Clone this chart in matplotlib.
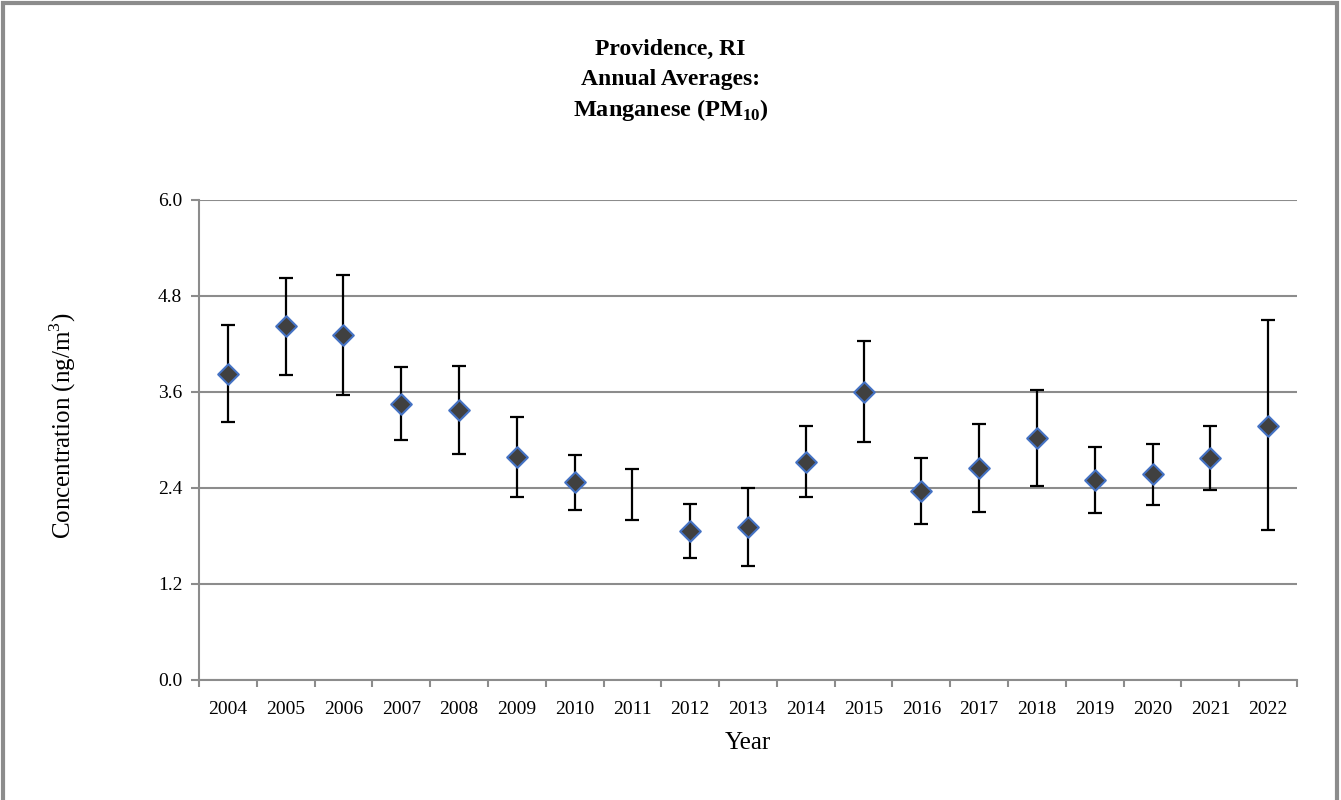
import numpy as np
import matplotlib
matplotlib.use("Agg")
import matplotlib.pyplot as plt
from matplotlib.patches import Rectangle

plt.rcParams['font.family'] = ['Liberation Serif', 'DejaVu Serif']
plt.rcParams['mathtext.fontset'] = 'custom'
plt.rcParams['mathtext.rm'] = 'Liberation Serif'
plt.rcParams['mathtext.bf'] = 'Liberation Serif:bold'

years = ['2004', '2005', '2006', '2007', '2008', '2009', '2010', '2011', '2012', '2013',
         '2014', '2015', '2016', '2017', '2018', '2019', '2020', '2021', '2022']
# annual mean (no mean shown for 2011)
mean = [3.83, 4.42, 4.31, 3.45, 3.38, 2.79, 2.47, np.nan, 1.86, 1.91,
        2.73, 3.60, 2.36, 2.65, 3.03, 2.50, 2.57, 2.77, 3.18]
lower = [3.22, 3.81, 3.56, 3.00, 2.83, 2.29, 2.13, 2.00, 1.52, 1.43,
         2.29, 2.97, 1.95, 2.10, 2.43, 2.09, 2.19, 2.37, 1.88]
upper = [4.44, 5.03, 5.06, 3.91, 3.93, 3.29, 2.81, 2.64, 2.20, 2.40,
         3.17, 4.24, 2.78, 3.20, 3.63, 2.91, 2.95, 3.17, 4.50]
yticks = [0.0, 1.2, 2.4, 3.6, 4.8, 6.0]

x = np.arange(len(years))
lo = np.array(lower)
hi = np.array(upper)
m = np.array(mean)
center = np.where(np.isnan(m), (lo + hi) / 2, m)

fig = plt.figure(figsize=(13.41, 8), dpi=100)
ax = fig.add_axes([0.1484, 0.15, 0.8188, 0.60])

ax.errorbar(x, center, yerr=[center - lo, hi - center], fmt='none',
            ecolor='black', elinewidth=1.6, capsize=5, capthick=1.6, zorder=3)
ax.scatter(x, m, marker='D', s=110, facecolor='#404040', edgecolor='#4472C4',
           linewidth=1.5, zorder=4)

ax.set_xlim(-0.5, len(years) - 0.5)
ax.set_ylim(0, 6.0)
ax.set_yticks(yticks)
ax.set_yticklabels(['%.1f' % v for v in yticks])
ax.set_xticks(x)
ax.set_xticklabels(years)
ax.set_xticks(np.arange(-0.5, len(years), 1), minor=True)
ax.tick_params(axis='x', which='major', length=0, labelsize=14, pad=15)
ax.tick_params(axis='x', which='minor', length=5, width=1.5, color='#8c8c8c')
ax.tick_params(axis='y', length=6, width=1.5, color='#8c8c8c', labelsize=14, pad=6)

ax.grid(axis='y', color='#8c8c8c', linewidth=1.5)
ax.set_axisbelow(True)
for s in ['top', 'right']:
    ax.spines[s].set_visible(False)
for s in ['left', 'bottom']:
    ax.spines[s].set_color('#8c8c8c')
    ax.spines[s].set_linewidth(1.5)

ax.set_xlabel('Year', fontsize=18, labelpad=10)
ax.set_ylabel('Concentration (ng/m$^3$)', fontsize=18, va='center')
ax.yaxis.set_label_coords(-0.124, 0.53)

fig.text(0.5, 0.938, 'Providence, RI', ha='center', va='center',
         fontsize=17, fontweight='bold')
fig.text(0.5, 0.900, 'Annual Averages:', ha='center', va='center',
         fontsize=17, fontweight='bold')
fig.text(0.5, 0.862, r'Manganese (PM$_{\mathbf{10}}$)', ha='center', va='center',
         fontsize=17.5, fontweight='bold')

fig.patches.append(Rectangle((0.002, -0.05), 0.995, 1.046, transform=fig.transFigure,
                             fill=False, edgecolor='#8c8c8c', linewidth=3))

fig.savefig('out.png', dpi=100)
